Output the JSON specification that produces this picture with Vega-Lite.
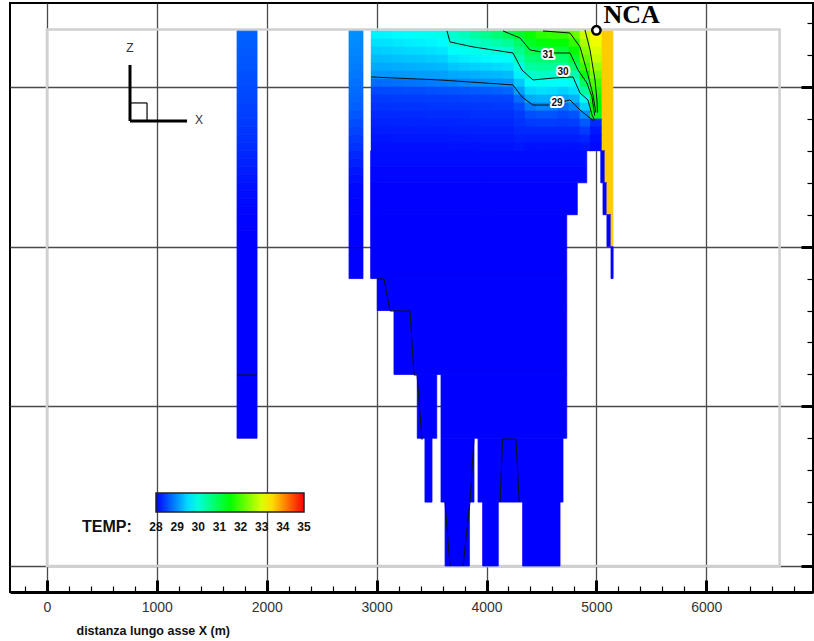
{
"$schema":"https://vega.github.io/schema/vega-lite/v6.json",
"width":803,"height":589,
"autosize":{"type":"none"},
"padding":{"left":10,"top":3,"right":1,"bottom":49},
"background":"white",
"config":{"view":{"stroke":"#000","strokeWidth":2},"font":"Liberation Sans"},
"datasets":{
"frame":[{"x0":0,"x1":6667,"z0":3.6,"z1":-30}],
"blocks":[
{"x0":1730,"x1":1912,"z0":3.5,"z1":3,"t":28.66},{"x0":1730,"x1":1912,"z0":3,"z1":2.5,"t":28.64},{"x0":1730,"x1":1912,"z0":2.5,"z1":2,"t":28.62},{"x0":1730,"x1":1912,"z0":2,"z1":1.5,"t":28.6},{"x0":1730,"x1":1912,"z0":1.5,"z1":1,"t":28.58},{"x0":1730,"x1":1912,"z0":1,"z1":0.5,"t":28.55},{"x0":1730,"x1":1912,"z0":0.5,"z1":0,"t":28.53},{"x0":1730,"x1":1912,"z0":0,"z1":-0.5,"t":28.5},{"x0":1730,"x1":1912,"z0":-0.5,"z1":-1,"t":28.48},{"x0":1730,"x1":1912,"z0":-1,"z1":-1.5,"t":28.45},{"x0":1730,"x1":1912,"z0":-1.5,"z1":-2,"t":28.43},{"x0":1730,"x1":1912,"z0":-2,"z1":-2.5,"t":28.4},{"x0":1730,"x1":1912,"z0":-2.5,"z1":-3,"t":28.37},{"x0":1730,"x1":1912,"z0":-3,"z1":-3.5,"t":28.34},{"x0":1730,"x1":1912,"z0":-3.5,"z1":-4,"t":28.31},{"x0":1730,"x1":1912,"z0":-4,"z1":-4.5,"t":28.27},{"x0":1730,"x1":1912,"z0":-4.5,"z1":-5,"t":28.23},{"x0":1730,"x1":1912,"z0":-5,"z1":-5.5,"t":28.19},{"x0":1730,"x1":1912,"z0":-5.5,"z1":-6,"t":28.15},{"x0":1730,"x1":1912,"z0":-6,"z1":-6.5,"t":28.12},{"x0":1730,"x1":1912,"z0":-6.5,"z1":-7,"t":28.09},{"x0":1730,"x1":1912,"z0":-7,"z1":-7.5,"t":28.06},{"x0":1730,"x1":1912,"z0":-7.5,"z1":-8,"t":28.04},{"x0":1730,"x1":1912,"z0":-8,"z1":-9,"t":28.02},{"x0":1730,"x1":1912,"z0":-9,"z1":-22,"t":28.0},
{"x0":2749,"x1":2876,"z0":3.5,"z1":3,"t":28.97},{"x0":2749,"x1":2876,"z0":3,"z1":2.5,"t":28.95},{"x0":2749,"x1":2876,"z0":2.5,"z1":2,"t":28.92},{"x0":2749,"x1":2876,"z0":2,"z1":1.5,"t":28.89},{"x0":2749,"x1":2876,"z0":1.5,"z1":1,"t":28.86},{"x0":2749,"x1":2876,"z0":1,"z1":0.5,"t":28.82},{"x0":2749,"x1":2876,"z0":0.5,"z1":0,"t":28.78},{"x0":2749,"x1":2876,"z0":0,"z1":-0.5,"t":28.74},{"x0":2749,"x1":2876,"z0":-0.5,"z1":-1,"t":28.7},{"x0":2749,"x1":2876,"z0":-1,"z1":-1.5,"t":28.65},{"x0":2749,"x1":2876,"z0":-1.5,"z1":-2,"t":28.59},{"x0":2749,"x1":2876,"z0":-2,"z1":-2.5,"t":28.53},{"x0":2749,"x1":2876,"z0":-2.5,"z1":-3,"t":28.47},{"x0":2749,"x1":2876,"z0":-3,"z1":-3.5,"t":28.4},{"x0":2749,"x1":2876,"z0":-3.5,"z1":-4,"t":28.34},{"x0":2749,"x1":2876,"z0":-4,"z1":-4.5,"t":28.27},{"x0":2749,"x1":2876,"z0":-4.5,"z1":-5,"t":28.21},{"x0":2749,"x1":2876,"z0":-5,"z1":-5.5,"t":28.15},{"x0":2749,"x1":2876,"z0":-5.5,"z1":-6,"t":28.1},{"x0":2749,"x1":2876,"z0":-6,"z1":-7,"t":28.05},{"x0":2749,"x1":2876,"z0":-7,"z1":-8,"t":28.02},{"x0":2749,"x1":2876,"z0":-8,"z1":-12,"t":28.0},
{"x0":2946,"x1":4912,"z0":-4,"z1":-5,"t":28.08},
{"x0":2946,"x1":4912,"z0":-5,"z1":-6,"t":28.04},
{"x0":2946,"x1":4826,"z0":-6,"z1":-8,"t":28.01},
{"x0":2946,"x1":4730,"z0":-8,"z1":-12,"t":28.0},
{"x0":3006,"x1":4730,"z0":-12,"z1":-14,"t":28.0},
{"x0":3158,"x1":4730,"z0":-14,"z1":-18,"t":28.0},
{"x0":3370,"x1":3547,"z0":-18,"z1":-22,"t":28.0},
{"x0":3586,"x1":4730,"z0":-18,"z1":-22,"t":28.0},
{"x0":3440,"x1":3504,"z0":-22,"z1":-26,"t":28.0},
{"x0":3586,"x1":3886,"z0":-22,"z1":-26,"t":28.0},
{"x0":3923,"x1":4696,"z0":-22,"z1":-26,"t":28.0},
{"x0":3623,"x1":3844,"z0":-26,"z1":-30,"t":28.0},
{"x0":3965,"x1":4107,"z0":-26,"z1":-30,"t":28.0},
{"x0":4329,"x1":4669,"z0":-26,"z1":-30,"t":28.0},
{"x0":5040,"x1":5150,"z0":3.5,"z1":-4,"t":33.6},
{"x0":5040,"x1":5078,"z0":-4,"z1":-6,"t":28.0},
{"x0":5078,"x1":5150,"z0":-4,"z1":-6,"t":33.6},
{"x0":5060,"x1":5096,"z0":-6,"z1":-8,"t":28.0},
{"x0":5096,"x1":5150,"z0":-6,"z1":-8,"t":33.6},
{"x0":5096,"x1":5133,"z0":-8,"z1":-10,"t":28.0},
{"x0":5133,"x1":5150,"z0":-8,"z1":-10,"t":33.6},
{"x0":5133,"x1":5152,"z0":-10,"z1":-12,"t":28.0}
],
"fine":[
{"x":3000,"z":3.25,"t":29.67},{"x":3000,"z":2.75,"t":29.54},{"x":3000,"z":2.25,"t":29.41},{"x":3000,"z":1.75,"t":29.29},{"x":3000,"z":1.25,"t":29.16},{"x":3000,"z":0.75,"t":29.04},{"x":3000,"z":0.25,"t":28.73},{"x":3000,"z":-0.25,"t":28.49},{"x":3000,"z":-0.75,"t":28.4},{"x":3000,"z":-1.25,"t":28.34},{"x":3000,"z":-1.75,"t":28.28},{"x":3000,"z":-2.25,"t":28.23},{"x":3000,"z":-2.75,"t":28.19},{"x":3000,"z":-3.25,"t":28.14},{"x":3000,"z":-3.75,"t":28.1},
{"x":3100,"z":3.25,"t":29.69},{"x":3100,"z":2.75,"t":29.56},{"x":3100,"z":2.25,"t":29.43},{"x":3100,"z":1.75,"t":29.3},{"x":3100,"z":1.25,"t":29.17},{"x":3100,"z":0.75,"t":29.04},{"x":3100,"z":0.25,"t":28.75},{"x":3100,"z":-0.25,"t":28.5},{"x":3100,"z":-0.75,"t":28.4},{"x":3100,"z":-1.25,"t":28.34},{"x":3100,"z":-1.75,"t":28.28},{"x":3100,"z":-2.25,"t":28.23},{"x":3100,"z":-2.75,"t":28.19},{"x":3100,"z":-3.25,"t":28.14},{"x":3100,"z":-3.75,"t":28.1},
{"x":3200,"z":3.25,"t":29.73},{"x":3200,"z":2.75,"t":29.6},{"x":3200,"z":2.25,"t":29.46},{"x":3200,"z":1.75,"t":29.33},{"x":3200,"z":1.25,"t":29.19},{"x":3200,"z":0.75,"t":29.05},{"x":3200,"z":0.25,"t":28.77},{"x":3200,"z":-0.25,"t":28.51},{"x":3200,"z":-0.75,"t":28.41},{"x":3200,"z":-1.25,"t":28.35},{"x":3200,"z":-1.75,"t":28.29},{"x":3200,"z":-2.25,"t":28.24},{"x":3200,"z":-2.75,"t":28.19},{"x":3200,"z":-3.25,"t":28.15},{"x":3200,"z":-3.75,"t":28.11},
{"x":3300,"z":3.25,"t":29.77},{"x":3300,"z":2.75,"t":29.63},{"x":3300,"z":2.25,"t":29.49},{"x":3300,"z":1.75,"t":29.35},{"x":3300,"z":1.25,"t":29.21},{"x":3300,"z":0.75,"t":29.06},{"x":3300,"z":0.25,"t":28.79},{"x":3300,"z":-0.25,"t":28.52},{"x":3300,"z":-0.75,"t":28.41},{"x":3300,"z":-1.25,"t":28.35},{"x":3300,"z":-1.75,"t":28.29},{"x":3300,"z":-2.25,"t":28.24},{"x":3300,"z":-2.75,"t":28.19},{"x":3300,"z":-3.25,"t":28.15},{"x":3300,"z":-3.75,"t":28.11},
{"x":3400,"z":3.25,"t":29.81},{"x":3400,"z":2.75,"t":29.66},{"x":3400,"z":2.25,"t":29.51},{"x":3400,"z":1.75,"t":29.37},{"x":3400,"z":1.25,"t":29.22},{"x":3400,"z":0.75,"t":29.08},{"x":3400,"z":0.25,"t":28.81},{"x":3400,"z":-0.25,"t":28.53},{"x":3400,"z":-0.75,"t":28.41},{"x":3400,"z":-1.25,"t":28.35},{"x":3400,"z":-1.75,"t":28.29},{"x":3400,"z":-2.25,"t":28.24},{"x":3400,"z":-2.75,"t":28.2},{"x":3400,"z":-3.25,"t":28.15},{"x":3400,"z":-3.75,"t":28.11},
{"x":3500,"z":3.25,"t":29.84},{"x":3500,"z":2.75,"t":29.69},{"x":3500,"z":2.25,"t":29.54},{"x":3500,"z":1.75,"t":29.39},{"x":3500,"z":1.25,"t":29.24},{"x":3500,"z":0.75,"t":29.09},{"x":3500,"z":0.25,"t":28.84},{"x":3500,"z":-0.25,"t":28.55},{"x":3500,"z":-0.75,"t":28.42},{"x":3500,"z":-1.25,"t":28.36},{"x":3500,"z":-1.75,"t":28.3},{"x":3500,"z":-2.25,"t":28.25},{"x":3500,"z":-2.75,"t":28.2},{"x":3500,"z":-3.25,"t":28.15},{"x":3500,"z":-3.75,"t":28.11},
{"x":3600,"z":3.25,"t":29.89},{"x":3600,"z":2.75,"t":29.73},{"x":3600,"z":2.25,"t":29.58},{"x":3600,"z":1.75,"t":29.42},{"x":3600,"z":1.25,"t":29.26},{"x":3600,"z":0.75,"t":29.1},{"x":3600,"z":0.25,"t":28.86},{"x":3600,"z":-0.25,"t":28.56},{"x":3600,"z":-0.75,"t":28.42},{"x":3600,"z":-1.25,"t":28.36},{"x":3600,"z":-1.75,"t":28.3},{"x":3600,"z":-2.25,"t":28.25},{"x":3600,"z":-2.75,"t":28.2},{"x":3600,"z":-3.25,"t":28.15},{"x":3600,"z":-3.75,"t":28.11},
{"x":3700,"z":3.25,"t":30.07},{"x":3700,"z":2.75,"t":29.99},{"x":3700,"z":2.25,"t":29.78},{"x":3700,"z":1.75,"t":29.57},{"x":3700,"z":1.25,"t":29.36},{"x":3700,"z":0.75,"t":29.15},{"x":3700,"z":0.25,"t":28.9},{"x":3700,"z":-0.25,"t":28.58},{"x":3700,"z":-0.75,"t":28.43},{"x":3700,"z":-1.25,"t":28.37},{"x":3700,"z":-1.75,"t":28.31},{"x":3700,"z":-2.25,"t":28.25},{"x":3700,"z":-2.75,"t":28.21},{"x":3700,"z":-3.25,"t":28.16},{"x":3700,"z":-3.75,"t":28.12},
{"x":3800,"z":3.25,"t":30.21},{"x":3800,"z":2.75,"t":30.04},{"x":3800,"z":2.25,"t":29.84},{"x":3800,"z":1.75,"t":29.62},{"x":3800,"z":1.25,"t":29.4},{"x":3800,"z":0.75,"t":29.18},{"x":3800,"z":0.25,"t":28.94},{"x":3800,"z":-0.25,"t":28.6},{"x":3800,"z":-0.75,"t":28.44},{"x":3800,"z":-1.25,"t":28.37},{"x":3800,"z":-1.75,"t":28.31},{"x":3800,"z":-2.25,"t":28.26},{"x":3800,"z":-2.75,"t":28.21},{"x":3800,"z":-3.25,"t":28.16},{"x":3800,"z":-3.75,"t":28.12},
{"x":3900,"z":3.25,"t":30.38},{"x":3900,"z":2.75,"t":30.13},{"x":3900,"z":2.25,"t":29.89},{"x":3900,"z":1.75,"t":29.66},{"x":3900,"z":1.25,"t":29.44},{"x":3900,"z":0.75,"t":29.21},{"x":3900,"z":0.25,"t":28.97},{"x":3900,"z":-0.25,"t":28.62},{"x":3900,"z":-0.75,"t":28.45},{"x":3900,"z":-1.25,"t":28.38},{"x":3900,"z":-1.75,"t":28.32},{"x":3900,"z":-2.25,"t":28.26},{"x":3900,"z":-2.75,"t":28.22},{"x":3900,"z":-3.25,"t":28.17},{"x":3900,"z":-3.75,"t":28.12},
{"x":4000,"z":3.25,"t":30.54},{"x":4000,"z":2.75,"t":30.23},{"x":4000,"z":2.25,"t":29.94},{"x":4000,"z":1.75,"t":29.71},{"x":4000,"z":1.25,"t":29.47},{"x":4000,"z":0.75,"t":29.24},{"x":4000,"z":0.25,"t":29.0},{"x":4000,"z":-0.25,"t":28.63},{"x":4000,"z":-0.75,"t":28.45},{"x":4000,"z":-1.25,"t":28.38},{"x":4000,"z":-1.75,"t":28.32},{"x":4000,"z":-2.25,"t":28.27},{"x":4000,"z":-2.75,"t":28.22},{"x":4000,"z":-3.25,"t":28.17},{"x":4000,"z":-3.75,"t":28.13},
{"x":4100,"z":3.25,"t":30.72},{"x":4100,"z":2.75,"t":30.35},{"x":4100,"z":2.25,"t":29.99},{"x":4100,"z":1.75,"t":29.75},{"x":4100,"z":1.25,"t":29.5},{"x":4100,"z":0.75,"t":29.26},{"x":4100,"z":0.25,"t":29.02},{"x":4100,"z":-0.25,"t":28.66},{"x":4100,"z":-0.75,"t":28.46},{"x":4100,"z":-1.25,"t":28.39},{"x":4100,"z":-1.75,"t":28.33},{"x":4100,"z":-2.25,"t":28.27},{"x":4100,"z":-2.75,"t":28.22},{"x":4100,"z":-3.25,"t":28.17},{"x":4100,"z":-3.75,"t":28.13},
{"x":4200,"z":3.25,"t":30.9},{"x":4200,"z":2.75,"t":30.48},{"x":4200,"z":2.25,"t":30.07},{"x":4200,"z":1.75,"t":29.79},{"x":4200,"z":1.25,"t":29.54},{"x":4200,"z":0.75,"t":29.3},{"x":4200,"z":0.25,"t":29.05},{"x":4200,"z":-0.25,"t":28.7},{"x":4200,"z":-0.75,"t":28.47},{"x":4200,"z":-1.25,"t":28.39},{"x":4200,"z":-1.75,"t":28.33},{"x":4200,"z":-2.25,"t":28.27},{"x":4200,"z":-2.75,"t":28.22},{"x":4200,"z":-3.25,"t":28.17},{"x":4200,"z":-3.75,"t":28.13},
{"x":4300,"z":3.25,"t":31.18},{"x":4300,"z":2.75,"t":30.81},{"x":4300,"z":2.25,"t":30.52},{"x":4300,"z":1.75,"t":30.23},{"x":4300,"z":1.25,"t":29.94},{"x":4300,"z":0.75,"t":29.66},{"x":4300,"z":0.25,"t":29.38},{"x":4300,"z":-0.25,"t":29.1},{"x":4300,"z":-0.75,"t":28.75},{"x":4300,"z":-1.25,"t":28.51},{"x":4300,"z":-1.75,"t":28.4},{"x":4300,"z":-2.25,"t":28.34},{"x":4300,"z":-2.75,"t":28.28},{"x":4300,"z":-3.25,"t":28.22},{"x":4300,"z":-3.75,"t":28.16},
{"x":4400,"z":3.25,"t":31.55},{"x":4400,"z":2.75,"t":31.26},{"x":4400,"z":2.25,"t":30.97},{"x":4400,"z":1.75,"t":30.68},{"x":4400,"z":1.25,"t":30.39},{"x":4400,"z":0.75,"t":30.1},{"x":4400,"z":0.25,"t":29.79},{"x":4400,"z":-0.25,"t":29.48},{"x":4400,"z":-0.75,"t":29.17},{"x":4400,"z":-1.25,"t":28.83},{"x":4400,"z":-1.75,"t":28.54},{"x":4400,"z":-2.25,"t":28.4},{"x":4400,"z":-2.75,"t":28.28},{"x":4400,"z":-3.25,"t":28.2},{"x":4400,"z":-3.75,"t":28.12},
{"x":4500,"z":3.25,"t":31.78},{"x":4500,"z":2.75,"t":31.41},{"x":4500,"z":2.25,"t":31.04},{"x":4500,"z":1.75,"t":30.74},{"x":4500,"z":1.25,"t":30.45},{"x":4500,"z":0.75,"t":30.15},{"x":4500,"z":0.25,"t":29.85},{"x":4500,"z":-0.25,"t":29.54},{"x":4500,"z":-0.75,"t":29.23},{"x":4500,"z":-1.25,"t":28.91},{"x":4500,"z":-1.75,"t":28.58},{"x":4500,"z":-2.25,"t":28.42},{"x":4500,"z":-2.75,"t":28.28},{"x":4500,"z":-3.25,"t":28.2},{"x":4500,"z":-3.75,"t":28.12},
{"x":4600,"z":3.25,"t":31.84},{"x":4600,"z":2.75,"t":31.47},{"x":4600,"z":2.25,"t":31.09},{"x":4600,"z":1.75,"t":30.76},{"x":4600,"z":1.25,"t":30.44},{"x":4600,"z":0.75,"t":30.12},{"x":4600,"z":0.25,"t":29.81},{"x":4600,"z":-0.25,"t":29.51},{"x":4600,"z":-0.75,"t":29.21},{"x":4600,"z":-1.25,"t":28.9},{"x":4600,"z":-1.75,"t":28.57},{"x":4600,"z":-2.25,"t":28.42},{"x":4600,"z":-2.75,"t":28.28},{"x":4600,"z":-3.25,"t":28.2},{"x":4600,"z":-3.75,"t":28.12},
{"x":4700,"z":3.25,"t":31.88},{"x":4700,"z":2.75,"t":31.48},{"x":4700,"z":2.25,"t":31.09},{"x":4700,"z":1.75,"t":30.75},{"x":4700,"z":1.25,"t":30.42},{"x":4700,"z":0.75,"t":30.1},{"x":4700,"z":0.25,"t":29.77},{"x":4700,"z":-0.25,"t":29.44},{"x":4700,"z":-0.75,"t":29.11},{"x":4700,"z":-1.25,"t":28.75},{"x":4700,"z":-1.75,"t":28.51},{"x":4700,"z":-2.25,"t":28.4},{"x":4700,"z":-2.75,"t":28.28},{"x":4700,"z":-3.25,"t":28.2},{"x":4700,"z":-3.75,"t":28.12},
{"x":4800,"z":3.25,"t":32.2},{"x":4800,"z":2.75,"t":31.83},{"x":4800,"z":2.25,"t":31.49},{"x":4800,"z":1.75,"t":31.14},{"x":4800,"z":1.25,"t":30.74},{"x":4800,"z":0.75,"t":30.29},{"x":4800,"z":0.25,"t":29.88},{"x":4800,"z":-0.25,"t":29.55},{"x":4800,"z":-0.75,"t":29.22},{"x":4800,"z":-1.25,"t":28.9},{"x":4800,"z":-1.75,"t":28.57},{"x":4800,"z":-2.25,"t":28.42},{"x":4800,"z":-2.75,"t":28.28},{"x":4800,"z":-3.25,"t":28.2},{"x":4800,"z":-3.75,"t":28.12},
{"x":4900,"z":3.25,"t":32.9},{"x":4900,"z":2.75,"t":32.67},{"x":4900,"z":2.25,"t":32.43},{"x":4900,"z":1.75,"t":32.19},{"x":4900,"z":1.25,"t":31.91},{"x":4900,"z":0.75,"t":31.38},{"x":4900,"z":0.25,"t":30.87},{"x":4900,"z":-0.25,"t":30.4},{"x":4900,"z":-0.75,"t":29.92},{"x":4900,"z":-1.25,"t":29.44},{"x":4900,"z":-1.75,"t":28.97},{"x":4900,"z":-2.25,"t":28.61},{"x":4900,"z":-2.75,"t":28.4},{"x":4900,"z":-3.25,"t":28.25},{"x":4900,"z":-3.75,"t":28.14},
{"x":4995,"z":3.25,"t":33.3},{"x":4995,"z":2.75,"t":33.15},{"x":4995,"z":2.25,"t":33.0},{"x":4995,"z":1.75,"t":32.85},{"x":4995,"z":1.25,"t":32.6},{"x":4995,"z":0.75,"t":32.3},{"x":4995,"z":0.25,"t":32.0},{"x":4995,"z":-0.25,"t":31.8},{"x":4995,"z":-0.75,"t":31.6},{"x":4995,"z":-1.25,"t":31.5},{"x":4995,"z":-1.75,"t":31.3},{"x":4995,"z":-2.25,"t":28.3},{"x":4995,"z":-2.75,"t":28.15},{"x":4995,"z":-3.25,"t":28.08},{"x":4995,"z":-3.75,"t":28.05}
],
"contours":[
{"c":"29","i":0,"x":2949,"z":0.63},{"c":"29","i":1,"x":3577,"z":0.44},{"c":"29","i":2,"x":4241,"z":0.13},{"c":"29","i":3,"x":4323,"z":-0.63},{"c":"29","i":4,"x":4423,"z":-1.13},{"c":"29","i":5,"x":4578,"z":-1.13},{"c":"29","i":6,"x":4760,"z":-0.81},{"c":"29","i":7,"x":4851,"z":-1.44},{"c":"29","i":8,"x":4942,"z":-1.94},{"c":"29","i":9,"x":4978,"z":-2.12},
{"c":"30","i":0,"x":3640,"z":3.51},{"c":"30","i":1,"x":3668,"z":2.82},{"c":"30","i":2,"x":3877,"z":2.51},{"c":"30","i":3,"x":4241,"z":2.13},{"c":"30","i":4,"x":4323,"z":1.06},{"c":"30","i":5,"x":4423,"z":0.44},{"c":"30","i":6,"x":4605,"z":0.56},{"c":"30","i":7,"x":4787,"z":0.63},{"c":"30","i":8,"x":4851,"z":-0.38},{"c":"30","i":9,"x":4923,"z":-0.81},{"c":"30","i":10,"x":4960,"z":-1.75},{"c":"30","i":11,"x":4982,"z":-2.05},
{"c":"31","i":0,"x":4150,"z":3.51},{"c":"31","i":1,"x":4305,"z":3.07},{"c":"31","i":2,"x":4396,"z":2.32},{"c":"31","i":3,"x":4550,"z":2.13},{"c":"31","i":4,"x":4760,"z":2.13},{"c":"31","i":5,"x":4833,"z":1.06},{"c":"31","i":6,"x":4914,"z":0.25},{"c":"31","i":7,"x":4960,"z":-0.63},{"c":"31","i":8,"x":4985,"z":-1.8},
{"c":"32","i":0,"x":4514,"z":3.51},{"c":"32","i":1,"x":4760,"z":3.38},{"c":"32","i":2,"x":4851,"z":2.51},{"c":"32","i":3,"x":4923,"z":0.75},{"c":"32","i":4,"x":4969,"z":-0.5},{"c":"32","i":5,"x":4995,"z":-1.6},
{"c":"33","i":0,"x":4896,"z":3.57},{"c":"33","i":1,"x":4942,"z":2.32},{"c":"33","i":2,"x":4987,"z":0.44},{"c":"33","i":3,"x":5005,"z":-0.81},{"c":"33","i":4,"x":5010,"z":-1.6},
{"c":"a","i":0,"x":1730,"z":-18.04},{"c":"a","i":1,"x":1912,"z":-18.04},
{"c":"b","i":0,"x":2749,"z":-10.06},{"c":"b","i":1,"x":2876,"z":-10.06},
{"c":"d","i":0,"x":3004,"z":-12.02},{"c":"d","i":1,"x":3067,"z":-12.02},{"c":"d","i":2,"x":3122,"z":-14.03},{"c":"d","i":3,"x":3304,"z":-14.03},{"c":"d","i":4,"x":3340,"z":-18.04},{"c":"d","i":5,"x":3368,"z":-18.04},{"c":"d","i":6,"x":3413,"z":-22.1},
{"c":"e","i":0,"x":3622,"z":-25.99},{"c":"e","i":1,"x":3668,"z":-30},
{"c":"f","i":0,"x":3886,"z":-22.05},{"c":"f","i":1,"x":3850,"z":-25.99},{"c":"f","i":2,"x":3786,"z":-30},
{"c":"g","i":0,"x":4123,"z":-25.99},{"c":"g","i":1,"x":4147,"z":-22.05},{"c":"g","i":2,"x":4268,"z":-22.05},{"c":"g","i":3,"x":4298,"z":-25.99}
],
"clabels":[{"lab":"31","x":4560,"z":2.0},{"lab":"30","x":4696,"z":0.94},{"lab":"29","x":4641,"z":-1.0}],
"nca":[{"name":"NCA","x":5000,"z":3.55}],
"sym":[
{"part":"axis","x":756,"z":1.38,"x2":756,"z2":-2.13},
{"part":"axis","x":756,"z":-2.13,"x2":1275,"z2":-2.13},
{"part":"box","x":756,"z":-1.0,"x2":911,"z2":-1.0},
{"part":"box","x":911,"z":-1.0,"x2":911,"z2":-2.13}
],
"symlab":[{"lab":"Z","x":756,"z":2.44},{"lab":"X","x":1384,"z":-2.07}]
},
"layer":[
{"data":{"name":"frame"},
 "mark":{"type":"rect","fill":null,"fillOpacity":0,"stroke":"#d0d0d0","strokeWidth":2.5},
 "encoding":{
  "x":{"field":"x0","type":"quantitative","scale":{"domain":[-336,6971],"nice":false,"zero":false},
   "axis":{"orient":"bottom","values":[0,1000,2000,3000,4000,5000,6000],"format":"d","grid":true,"gridColor":"#4a4a4a","gridWidth":1.3,"ticks":true,"tickSize":-12,"tickWidth":3,"tickColor":"#000","domain":true,"domainColor":"#000","domainWidth":3,"labels":true,"labelFont":"Liberation Sans","labelFontSize":14,"labelColor":"#333","labelPadding":20,"labelFlush":false,"labelOverlap":false,"title":"distanza lungo asse X (m)","titleFont":"Liberation Sans","titleFontSize":12.5,"titleFontWeight":"bold","titleColor":"#111","titleAnchor":"start","titleAlign":"left","titleX":66,"titleY":38,"titleBaseline":"middle"}},
  "x2":{"field":"x1"},
  "y":{"field":"z0","type":"quantitative","scale":{"domain":[-31.63,5.26],"nice":false,"zero":false},
   "axis":{"orient":"right","values":[0,-10,-20,-30],"grid":true,"gridColor":"#4a4a4a","gridWidth":1.3,"ticks":true,"tickSize":-12,"tickWidth":3,"tickColor":"#000","domain":true,"domainColor":"#000","domainWidth":2,"labels":false,"title":null}},
  "y2":{"field":"z1"}
 }},
{"data":{"name":"frame"},
 "mark":{"type":"rect","opacity":0},
 "encoding":{
  "x":{"field":"x0","type":"quantitative","scale":{"domain":[-336,6971],"nice":false,"zero":false},
   "axis":{"orient":"bottom","values":[-200,200,400,600,800,1200,1400,1600,1800,2200,2400,2600,2800,3200,3400,3600,3800,4200,4400,4600,4800,5200,5400,5600,5800,6200,6400,6600,6800],"grid":false,"ticks":true,"tickSize":-6,"tickWidth":1.2,"tickColor":"#000","domain":false,"labels":false,"title":null}},
  "x2":{"field":"x1"},
  "y":{"field":"z0","type":"quantitative","scale":{"domain":[-31.63,5.26],"nice":false,"zero":false},
   "axis":{"orient":"right","values":[4,2,-2,-4,-6,-8,-12,-14,-16,-18,-22,-24,-26,-28],"grid":false,"ticks":true,"tickSize":-6,"tickWidth":1.2,"tickColor":"#000","domain":false,"labels":false,"title":null}},
  "y2":{"field":"z1"}
 }},
{"data":{"name":"blocks"},
 "mark":{"type":"rect","strokeWidth":0.8,"stroke":{"expr":"scale('color', datum.t)"}},
 "encoding":{
  "x":{"field":"x0","type":"quantitative","axis":null},
  "x2":{"field":"x1"},
  "y":{"field":"z0","type":"quantitative","axis":null},
  "y2":{"field":"z1"},
  "color":{"field":"t","type":"quantitative",
   "scale":{"type":"linear","domain":[28,29.75,31.5,33.25,35],"range":["#0000ff","#00ffff","#00ff00","#ffff00","#ff0000"],"interpolate":"rgb","clamp":true},
   "legend":{"type":"gradient","orient":"none","legendX":72,"legendY":490,"direction":"horizontal","gradientLength":148,"gradientThickness":19,"title":"TEMP:","titleOrient":"left","titleAnchor":"end","titleBaseline":"bottom","titleFont":"Liberation Sans","titleFontSize":16,"titleFontWeight":"bold","titleColor":"#111","titlePadding":24,"values":[28,29,30,31,32,33,34,35],"labelFont":"Liberation Sans","labelFontSize":12,"labelFontWeight":"bold","labelColor":"#111","labelOffset":10,"labelOverlap":false,"gradientStrokeColor":"#222","gradientStrokeWidth":1.5,"padding":0,
    "encode":{"labels":{"update":{"align":{"value":"center"}}},"title":{"update":{"dy":{"value":22}}}}}}
 }},
{"data":{"name":"fine"},
 "mark":{"type":"rect","width":11.6,"height":8.6},
 "encoding":{
  "x":{"field":"x","type":"quantitative","axis":null},
  "y":{"field":"z","type":"quantitative","axis":null},
  "color":{"field":"t","type":"quantitative",
   "scale":{"type":"linear","domain":[28,29.75,31.5,33.25,35],"range":["#0000ff","#00ffff","#00ff00","#ffff00","#ff0000"],"interpolate":"rgb","clamp":true},"legend":null}
 }},
{"data":{"name":"contours"},
 "mark":{"type":"line","color":"#111","strokeWidth":1},
 "encoding":{
  "x":{"field":"x","type":"quantitative","axis":null},
  "y":{"field":"z","type":"quantitative","axis":null},
  "detail":{"field":"c"},
  "order":{"field":"i","type":"quantitative"}
 }},
{"data":{"name":"clabels"},
 "mark":{"type":"text","font":"Liberation Sans","fontSize":10,"fontWeight":"bold","stroke":"white","strokeWidth":4,"strokeJoin":"round","color":"white"},
 "encoding":{
  "x":{"field":"x","type":"quantitative","axis":null},
  "y":{"field":"z","type":"quantitative","axis":null},
  "text":{"field":"lab"}
 }},
{"data":{"name":"clabels"},
 "mark":{"type":"text","font":"Liberation Sans","fontSize":10,"fontWeight":"bold","color":"#111"},
 "encoding":{
  "x":{"field":"x","type":"quantitative","axis":null},
  "y":{"field":"z","type":"quantitative","axis":null},
  "text":{"field":"lab"}
 }},
{"data":{"name":"sym"},
 "transform":[{"filter":"datum.part === 'axis'"}],
 "mark":{"type":"rule","color":"#000","strokeWidth":3},
 "encoding":{
  "x":{"field":"x","type":"quantitative","axis":null},
  "y":{"field":"z","type":"quantitative","axis":null},
  "x2":{"field":"x2"},"y2":{"field":"z2"}
 }},
{"data":{"name":"sym"},
 "transform":[{"filter":"datum.part === 'box'"}],
 "mark":{"type":"rule","color":"#000","strokeWidth":1.2},
 "encoding":{
  "x":{"field":"x","type":"quantitative","axis":null},
  "y":{"field":"z","type":"quantitative","axis":null},
  "x2":{"field":"x2"},"y2":{"field":"z2"}
 }},
{"data":{"name":"symlab"},
 "mark":{"type":"text","font":"Liberation Sans","fontSize":12,"color":"#333"},
 "encoding":{
  "x":{"field":"x","type":"quantitative","axis":null},
  "y":{"field":"z","type":"quantitative","axis":null},
  "text":{"field":"lab"}
 }},
{"data":{"name":"nca"},
 "mark":{"type":"point","shape":"circle","size":70,"filled":false,"fill":"white","fillOpacity":1,"stroke":"#000","strokeWidth":2.5,"opacity":1},
 "encoding":{
  "x":{"field":"x","type":"quantitative","axis":null},
  "y":{"field":"z","type":"quantitative","axis":null}
 }},
{"data":{"name":"nca"},
 "mark":{"type":"text","font":"Liberation Serif","fontSize":26,"fontWeight":"bold","color":"#000","align":"left","baseline":"alphabetic","dx":7,"dy":-7},
 "encoding":{
  "x":{"field":"x","type":"quantitative","axis":null},
  "y":{"field":"z","type":"quantitative","axis":null},
  "text":{"field":"name"}
 }}
],
"resolve":{"axis":{"x":"independent","y":"independent"}}
}
